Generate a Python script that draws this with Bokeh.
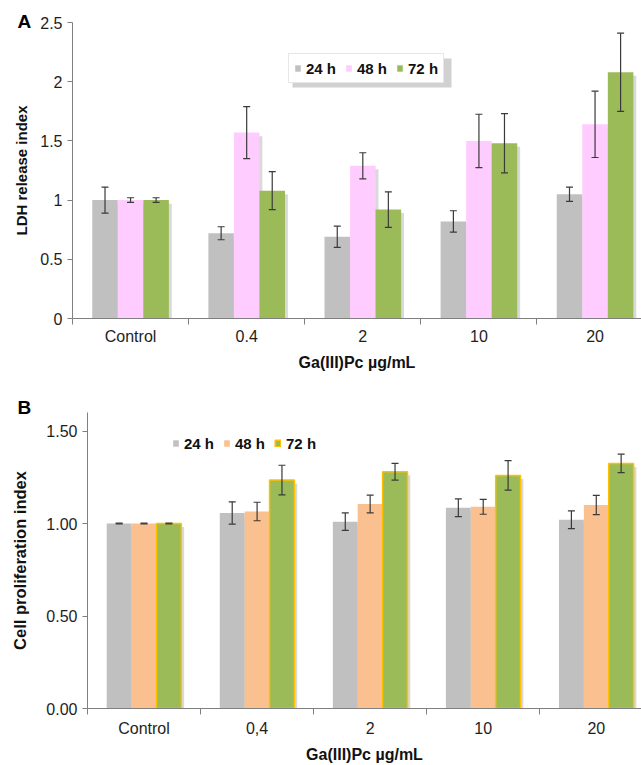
from bokeh.plotting import figure
from bokeh.layouts import column
from bokeh.models import (ColumnDataSource, Range1d, FixedTicker, Whisker, TeeHead,
                          Legend, LegendItem, BoxAnnotation)
from bokeh.embed import file_html
from bokeh.resources import INLINE

# ---------------- data ----------------
cats_a = ["Control", "0.4", "2", "10", "20"]
a_24 = [1.00, 0.72, 0.69, 0.82, 1.05]
a_24_err = [0.11, 0.055, 0.09, 0.09, 0.06]
a_48 = [1.00, 1.57, 1.29, 1.50, 1.64]
a_48_err = [0.02, 0.22, 0.11, 0.225, 0.28]
a_72 = [1.00, 1.08, 0.92, 1.48, 2.08]
a_72_err = [0.02, 0.16, 0.15, 0.25, 0.33]

cats_b = ["Control", "0,4", "2", "10", "20"]
b_24 = [1.00, 1.057, 1.01, 1.085, 1.02]
b_24_err = [0.002, 0.06, 0.047, 0.048, 0.048]
b_48 = [1.00, 1.065, 1.105, 1.09, 1.10]
b_48_err = [0.002, 0.05, 0.048, 0.04, 0.052]
b_72 = [1.00, 1.235, 1.28, 1.26, 1.325]
b_72_err = [0.002, 0.08, 0.045, 0.08, 0.05]

series_names = ["24 h", "48 h", "72 h"]
xlabel_text = "Ga(III)Pc \u00b5g/mL"
FONT = "Liberation Sans"
BAR_W = 0.22


def make_panel(cats, series, errs, colors, outlines, ymax, yticks, ylabels, ylabel,
               cfg):
    n = len(cats)
    p = figure(width=641, height=cfg["height"], output_backend="svg",
               toolbar_location=None, frame_align=False,
               x_range=Range1d(0, 4.9), y_range=Range1d(0, ymax),
               min_border_left=cfg["bl"], min_border_right=0,
               min_border_top=cfg["bt"], min_border_bottom=cfg["bb"])
    p.outline_line_color = None
    p.grid.visible = False

    # panel letter as the plot title
    p.title.text = cfg["letter"]
    p.title.align = "left"
    p.title.offset = 17 - cfg["bl"]
    p.title.standoff = cfg["lstand"]
    p.title.vertical_align = cfg["lva"]
    p.title.text_font = FONT
    p.title.text_font_size = "19px"
    p.title.text_font_style = "bold"
    p.title.text_color = "black"

    offsets = [-BAR_W, 0.0, BAR_W]
    items = []
    for k, (vals, err, col, oc) in enumerate(zip(series, errs, colors, outlines)):
        xs = [i + 0.5 + offsets[k] for i in range(n)]
        src = ColumnDataSource(dict(x=xs, top=vals,
                                    up=[v + e for v, e in zip(vals, err)],
                                    lo=[v - e for v, e in zip(vals, err)],
                                    xs=[x + 0.025 for x in xs],
                                    ts=[v - 0.012 * ymax for v in vals]))
        p.vbar(x="xs", top="ts", width=BAR_W, source=src, fill_color="#000000",
               fill_alpha=0.15, line_color=None)
        r = p.vbar(x="x", top="top", width=BAR_W, source=src, fill_color=col,
                   line_color=oc, line_width=1.5 if oc else 0)
        items.append(LegendItem(label=series_names[k], renderers=[r]))
        head = dict(size=7, line_color="#3a3a3a", line_width=1.2)
        p.add_layout(Whisker(source=src, base="x", upper="up", lower="lo",
                             level="annotation",
                             line_color="#3a3a3a", line_width=1.2,
                             upper_head=TeeHead(**head), lower_head=TeeHead(**head)))

    xa = p.xaxis[0]
    centers = [i + 0.5 for i in range(n)]
    xa.ticker = FixedTicker(ticks=centers, minor_ticks=list(range(n + 1)))
    xa.major_label_overrides = {c: lab for c, lab in zip(centers, cats)}
    xa.major_tick_out = 0
    xa.major_tick_in = 0
    xa.minor_tick_out = 6
    xa.minor_tick_in = 0
    xa.axis_label = xlabel_text
    ya = p.yaxis[0]
    ya.ticker = FixedTicker(ticks=yticks)
    ya.major_label_overrides = {t: l for t, l in zip(yticks, ylabels)}
    ya.major_tick_out = 5
    ya.major_tick_in = 0
    ya.minor_tick_out = 0
    ya.minor_tick_in = 0
    ya.axis_label = ylabel
    for ax in (xa, ya):
        ax.axis_line_color = "#7f7f7f"
        ax.major_tick_line_color = "#7f7f7f"
        ax.minor_tick_line_color = "#7f7f7f"
        ax.major_label_text_font = FONT
        ax.major_label_text_font_size = "16px"
        ax.major_label_text_color = "#1e1e1e"
        ax.axis_label_text_font = FONT
        ax.axis_label_text_font_style = "bold"
        ax.axis_label_text_color = "#111111"
        ax.major_label_standoff = 5
    xa.major_label_standoff = cfg["xls"]
    xa.axis_label_text_font_size = "16px"
    ya.axis_label_text_font_size = cfg["yfs"]
    xa.axis_label_standoff = 6
    ya.axis_label_standoff = cfg["ystand"]

    if cfg["shadow"]:
        l, t, w, h = cfg["shadow"]
        p.add_layout(BoxAnnotation(left=l, right=l + w, top=t, bottom=t + h,
                                   left_units="canvas", right_units="canvas",
                                   top_units="canvas", bottom_units="canvas",
                                   fill_color="#9a9a9a", fill_alpha=0.45,
                                   line_color=None, level="annotation"))

    leg = Legend(items=items, location=cfg["legloc"], orientation="horizontal",
                 glyph_width=7, glyph_height=8, label_standoff=5, spacing=9,
                 padding=5, margin=0, label_height=18,
                 label_text_font=FONT, label_text_font_size="15px",
                 label_text_font_style="bold", label_text_color="#111111",
                 border_line_color=cfg["border"], background_fill_color="white",
                 background_fill_alpha=1.0 if cfg["border"] else 0.0)
    p.add_layout(leg, "center")
    return p


pa = make_panel(cats_a, [a_24, a_48, a_72], [a_24_err, a_48_err, a_72_err],
                ["#c0c0c0", "#ffccff", "#9bbb59"], [None, None, None],
                2.5, [0, 0.5, 1, 1.5, 2, 2.5], ["0", "0.5", "1", "1.5", "2", "2.5"],
                "LDH release index",
                dict(height=384, bl=72, bt=22, bb=66, yfs="15px", ystand=7, xls=3,
                     legloc=(216, 235), border="#d0d0d0", letter="A", lstand=-21,
                     lva="middle", shadow=(292, 58, 159, 29)))

pb = make_panel(cats_b, [b_24, b_48, b_72], [b_24_err, b_48_err, b_72_err],
                ["#c0c0c0", "#fac090", "#9bbb59"], [None, None, "#ffc000"],
                1.6, [0, 0.5, 1.0, 1.5], ["0.00", "0.50", "1.00", "1.50"],
                "Cell proliferation index",
                dict(height=381, bl=87, bt=28, bb=55, yfs="16.5px", ystand=14, xls=5,
                     legloc=(85, 256), border=None, letter="B", lstand=-31,
                     lva="top", shadow=None))

layout = column(pa, pb, spacing=0)
open("out.html", "w").write(file_html(layout, INLINE))
